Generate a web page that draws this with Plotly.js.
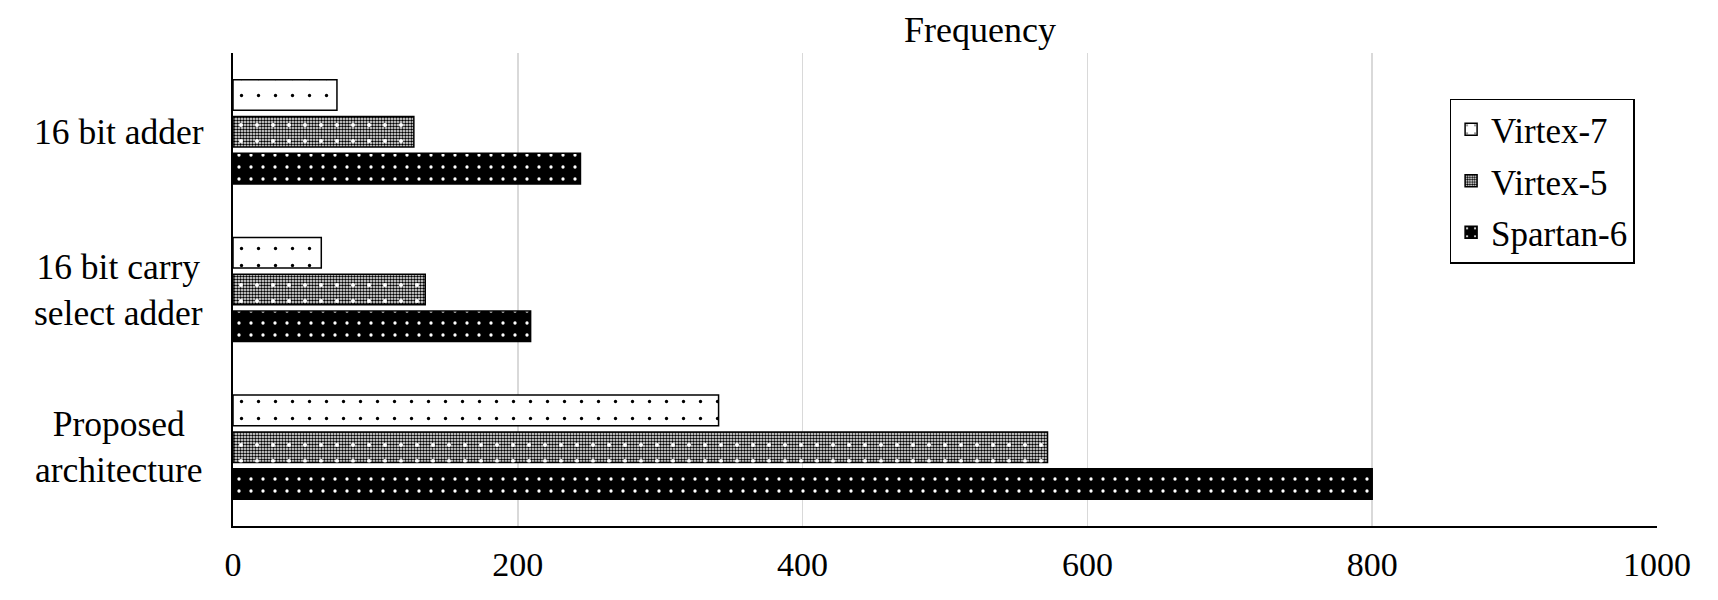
<!DOCTYPE html>
<html>
<head>
<meta charset="utf-8">
<script src="https://cdn.plot.ly/plotly-3.0.1.min.js"></script>
<style>
html,body{margin:0;padding:0;background:#fff;}
#chart{width:1718px;height:600px;}
</style>
</head>
<body>
<div id="chart"></div>
<script>
// ---- data ----
var categories = ["16 bit adder", "16 bit carry select adder", "Proposed architecture"];
var categoryLabels = ["16 bit adder", "16 bit carry<br>select adder", "Proposed<br>architecture"];
var seriesNames = ["Virtex-7", "Virtex-5", "Spartan-6"];
var virtex7 = [73, 62, 341];
var virtex5 = [127, 135, 572];
var spartan6 = [244, 209, 800];
var xTicks = [0, 200, 400, 600, 800, 1000];
var chartTitle = "Frequency";

var FONT = "Liberation Serif, Times New Roman, serif";
var values = [virtex7, virtex5, spartan6];

var patterns = [
  {shape: ".", fgcolor: "#000000", bgcolor: "#ffffff", size: 17, solidity: 0.03, fillmode: "replace"},
  {shape: ".", fgcolor: "#000000", bgcolor: "#ffffff", size: 3, solidity: 0.55, fillmode: "replace"},
  {shape: ".", fgcolor: "#ffffff", bgcolor: "#000000", size: 12, solidity: 0.06, fillmode: "replace"}
];

var traces = [];
for (var i = 0; i < seriesNames.length; i++) {
  traces.push({
    type: "bar",
    orientation: "h",
    name: seriesNames[i],
    y: categories,
    x: values[i],
    legendgroup: "g" + i,
    marker: {
      color: i === 2 ? "#000000" : "#ffffff",
      pattern: patterns[i],
      line: {color: "#000000", width: 1.5}
    },
    hoverinfo: "x+name"
  });
}
// overlay: white sparse dots on the Virtex-5 checker fill
for (var j = 0; j < seriesNames.length; j++) {
  traces.push({
    type: "bar",
    orientation: "h",
    name: seriesNames[j] + " overlay",
    y: categories,
    x: values[j],
    yaxis: "y2",
    showlegend: false,
    hoverinfo: "skip",
    marker: j === 1 ? {
      color: "rgba(0,0,0,0)",
      pattern: {shape: ".", fgcolor: "#ffffff", bgcolor: "rgba(0,0,0,0)", size: 16, solidity: 0.05, fillmode: "replace"},
      line: {width: 0}
    } : {color: "rgba(0,0,0,0)", line: {width: 0}}
  });
}

var annotations = categories.map(function (c, k) {
  return {
    xref: "paper", yref: "y", x: -0.0804, y: c,
    text: categoryLabels[k], showarrow: false,
    xanchor: "center", yanchor: "middle", align: "center",
    font: {family: FONT, size: 35.5, color: "#000000"}
  };
});

var layout = {
  width: 1718, height: 600,
  paper_bgcolor: "#ffffff", plot_bgcolor: "#ffffff",
  margin: {l: 233, r: 61, t: 53, b: 74, pad: 0},
  barmode: "group",
  bargap: 0.3,
  bargroupgap: 0.17,
  title: {
    text: chartTitle,
    font: {family: FONT, size: 36, color: "#000000"},
    xref: "container", x: 980 / 1718, xanchor: "center",
    yref: "container", y: 1 - 29 / 600, yanchor: "middle"
  },
  xaxis: {
    range: [0, 1000],
    tickvals: xTicks,
    ticktext: xTicks.map(String),
    showgrid: true, gridcolor: "#d9d9d9", gridwidth: 1.5,
    zeroline: false,
    showline: true, linecolor: "#000000", linewidth: 2,
    ticks: "", ticklabelstandoff: 7,
    tickfont: {family: FONT, size: 34, color: "#000000"},
    fixedrange: true
  },
  yaxis: {
    type: "category",
    categoryorder: "array", categoryarray: categories,
    autorange: "reversed",
    showticklabels: false,
    showgrid: false, zeroline: false,
    showline: true, linecolor: "#000000", linewidth: 2,
    ticks: "",
    fixedrange: true
  },
  yaxis2: {
    type: "category",
    categoryorder: "array", categoryarray: categories,
    autorange: "reversed",
    overlaying: "y",
    visible: false,
    showticklabels: false, showgrid: false, zeroline: false,
    fixedrange: true
  },
  legend: {
    x: (1449.6 - 233) / (1657 - 233), xanchor: "left",
    y: (526 - 98.6) / (526 - 53), yanchor: "top",
    bgcolor: "#ffffff", bordercolor: "#000000", borderwidth: 1.5,
    font: {family: FONT, size: 35, color: "#000000"},
    traceorder: "grouped", tracegroupgap: 3,
    itemwidth: 30
  },
  annotations: annotations,
  showlegend: true
};

Plotly.newPlot("chart", traces, layout, {displayModeBar: false, staticPlot: true});
</script>
</body>
</html>
